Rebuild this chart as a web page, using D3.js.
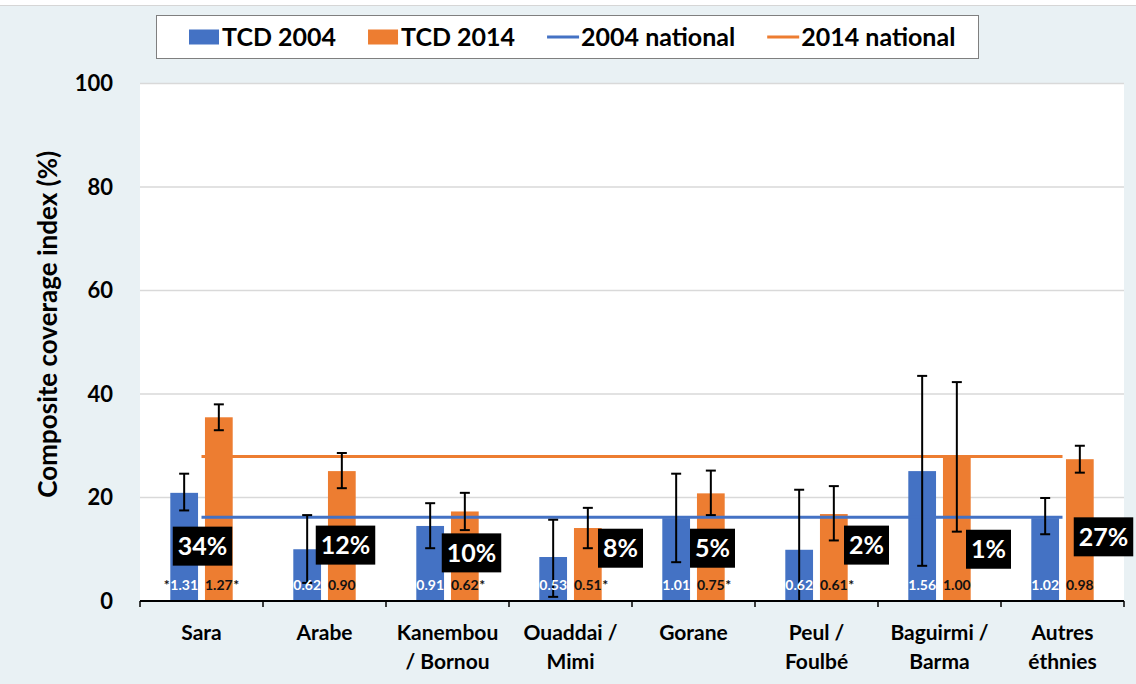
<!DOCTYPE html>
<html>
<head>
<meta charset="utf-8">
<script src="https://cdn.jsdelivr.net/npm/d3@7"></script>
<style>
  body { margin: 0; background: #fff; }
  svg { display: block; font-family: Lato, "Open Sans", sans-serif; font-weight: bold; }
</style>
</head>
<body>
<svg id="chart" width="1136" height="684"></svg>
<script>
// data
const groups = ["Sara", "Arabe", "Kanembou\n/ Bornou", "Ouaddai /\nMimi", "Gorane", "Peul /\nFoulbé", "Baguirmi /\nBarma", "Autres\néthnies"];
const tcd2004 = [20.9, 10.0, 14.5, 8.5, 16.0, 9.9, 25.1, 16.0];
const err2004Lo = [17.5, 3.5, 10.2, 0.8, 7.5, 0.0, 6.8, 12.9];
const err2004Hi = [24.6, 16.6, 18.9, 15.7, 24.6, 21.5, 43.5, 19.9];
const tcd2014 = [35.5, 25.1, 17.3, 14.1, 20.8, 16.8, 28.0, 27.4];
const err2014Lo = [33.0, 21.8, 13.7, 10.2, 16.6, 11.7, 13.4, 24.8];
const err2014Hi = [38.0, 28.6, 20.9, 18.0, 25.2, 22.2, 42.3, 30.0];
const ratio2004 = ["*1.31", "0.62", "0.91", "0.53", "1.01", "0.62", "1.56", "1.02"];
const ratio2014 = ["1.27*", "0.90", "0.62*", "0.51*", "0.75*", "0.61*", "1.00", "0.98"];
const pctLabels = ["34%", "12%", "10%", "8%", "5%", "2%", "1%", "27%"];
const national2004 = 16.2;
const national2014 = 27.9;
const yTicks = [0, 20, 40, 60, 80, 100];
const legendItems = ["TCD 2004", "TCD 2014", "2004 national", "2014 national"];

// where the black percent boxes sit (offset from group centre, and y value)
const pctDx = [1, 21, 24, 50, 19, 50, 49, 41];
const pctY = [10.6, 10.8, 9.3, 10.2, 10.2, 10.8, 10.0, 12.4];

const blue = "#4472c4", orange = "#ed7d31", bg = "#e9f1f4";

const svg = d3.select("#chart");
const pLeft = 140, pRight = 1124, pTop = 83.5, pBottom = 601;

svg.append("rect").attr("x", 0).attr("y", 6).attr("width", 1136).attr("height", 678).attr("fill", bg);
svg.append("line").attr("x1", 0).attr("x2", 1136).attr("y1", 5.5).attr("y2", 5.5).attr("stroke", "#d6d6d6");
svg.append("rect").attr("x", pLeft).attr("y", pTop).attr("width", pRight - pLeft).attr("height", pBottom - pTop).attr("fill", "#fff");

const x = d3.scaleBand().domain(groups).range([pLeft, pRight]).padding(0);
const sub = d3.scaleBand().domain(["2004", "2014"]).range([0, x.bandwidth()]).paddingInner(0.2).paddingOuter(0.874);
const y = d3.scaleLinear().domain([0, 100]).range([pBottom, pTop]);

// gridlines
svg.append("g").selectAll("line").data(yTicks.filter(d => d > 0)).enter().append("line")
  .attr("x1", pLeft).attr("x2", pRight)
  .attr("y1", d => y(d)).attr("y2", d => y(d))
  .attr("stroke", "#d9d9d9").attr("stroke-width", 1.5);

// y tick labels
svg.append("g").selectAll("text").data(yTicks).enter().append("text")
  .attr("x", 113).attr("y", d => y(d)).attr("dy", "0.36em")
  .attr("text-anchor", "end").style("font-size", "22px").text(d => d);

svg.append("text")
  .attr("transform", `translate(57,${(pTop + pBottom) / 2 - 18}) rotate(-90)`)
  .attr("text-anchor", "middle").style("font-size", "26px")
  .text("Composite coverage index (%)");

const series = [
  { key: "2004", vals: tcd2004, lo: err2004Lo, hi: err2004Hi, ratio: ratio2004, col: blue, txt: "#fff" },
  { key: "2014", vals: tcd2014, lo: err2014Lo, hi: err2014Hi, ratio: ratio2014, col: orange, txt: "#111" }
];

const cx = (s, i) => x(groups[i]) + sub(s.key) + sub.bandwidth() / 2;

series.forEach(s => {
  svg.append("g").selectAll("rect").data(s.vals).enter().append("rect")
    .attr("x", (d, i) => x(groups[i]) + sub(s.key))
    .attr("width", sub.bandwidth())
    .attr("y", d => y(d)).attr("height", d => y(0) - y(d))
    .attr("fill", s.col);
});

// national lines
const lineX1 = x(groups[0]) + x.bandwidth() / 2;
const lineX2 = x(groups[groups.length - 1]) + x.bandwidth() / 2;
[[national2014, orange], [national2004, blue]].forEach(([v, c]) => {
  svg.append("line").attr("x1", lineX1).attr("x2", lineX2)
    .attr("y1", y(v)).attr("y2", y(v)).attr("stroke", c).attr("stroke-width", 3);
});

// error bars
series.forEach(s => {
  const g = svg.append("g").attr("stroke", "#000").attr("stroke-width", 2);
  s.vals.forEach((d, i) => {
    const c = cx(s, i);
    g.append("line").attr("x1", c).attr("x2", c).attr("y1", y(s.lo[i])).attr("y2", y(s.hi[i]));
    g.append("line").attr("x1", c - 5).attr("x2", c + 5).attr("y1", y(s.hi[i])).attr("y2", y(s.hi[i]));
    g.append("line").attr("x1", c - 5).attr("x2", c + 5).attr("y1", y(s.lo[i])).attr("y2", y(s.lo[i]));
  });
});

// ratio labels inside bars
series.forEach(s => {
  s.ratio.forEach((r, i) => {
    const c = cx(s, i);
    const pre = r.startsWith("*"), post = r.endsWith("*");
    const num = r.replace(/\*/g, "");
    const t = svg.append("text").attr("x", c).attr("y", 590).attr("text-anchor", "middle")
      .style("font-size", "14px").attr("fill", s.txt).text(num);
    const w = t.node().getComputedTextLength();
    if (pre) svg.append("text").attr("x", c - w / 2 - 0.5).attr("y", 590).attr("text-anchor", "end")
      .style("font-size", "14px").attr("fill", "#111").text("*");
    if (post) svg.append("text").attr("x", c + w / 2 + 0.5).attr("y", 590)
      .style("font-size", "14px").attr("fill", "#111").text("*");
  });
});

// x axis
svg.append("line").attr("x1", pLeft).attr("x2", pRight).attr("y1", pBottom).attr("y2", pBottom)
  .attr("stroke", "#000").attr("stroke-width", 2);
const bounds = groups.map(g => x(g)).concat([pRight]);
svg.append("g").selectAll("line").data(bounds).enter().append("line")
  .attr("x1", d => d).attr("x2", d => d).attr("y1", pBottom).attr("y2", pBottom + 6)
  .attr("stroke", "#000").attr("stroke-width", 1.5);

const xl = svg.append("g").selectAll("text").data(groups).enter().append("text")
  .attr("x", d => x(d) + x.bandwidth() / 2).attr("y", 640)
  .attr("text-anchor", "middle").style("font-size", "21px");
xl.each(function (d) {
  d.split("\n").forEach((line, k) => {
    d3.select(this).append("tspan").attr("x", x(d) + x.bandwidth() / 2).attr("dy", k === 0 ? 0 : 29).text(line);
  });
});

// black percent boxes
pctLabels.forEach((p, i) => {
  const c = x(groups[i]) + x.bandwidth() / 2 + pctDx[i];
  const cy = y(pctY[i]);
  const g = svg.append("g");
  const box = g.append("rect").attr("fill", "#000");
  const t = g.append("text").attr("x", c).attr("y", cy).attr("dy", "0.36em")
    .attr("text-anchor", "middle").attr("fill", "#fff").style("font-size", "25px").text(p);
  const w = t.node().getComputedTextLength() + 10;
  box.attr("x", c - w / 2).attr("y", cy - 19.5).attr("width", w).attr("height", 39);
});

// legend
const lg = svg.append("g");
lg.append("rect").attr("x", 156.5).attr("y", 15.5).attr("width", 822).attr("height", 43)
  .attr("fill", "#fff").attr("stroke", "#7f7f7f");
const legendCols = [blue, orange, blue, orange];
let lx = 189;
legendItems.forEach((name, i) => {
  if (i < 2) lg.append("rect").attr("x", lx).attr("y", 29.5).attr("width", 30).attr("height", 15).attr("fill", legendCols[i]);
  else lg.append("line").attr("x1", lx).attr("x2", lx + 32).attr("y1", 37).attr("y2", 37)
    .attr("stroke", legendCols[i]).attr("stroke-width", 3);
  const sw = i < 2 ? 33 : 34;
  const t = lg.append("text").attr("x", lx + sw).attr("y", 37).attr("dy", "0.36em")
    .style("font-size", "25px").text(name);
  lx += sw + t.node().getComputedTextLength() + 32;
});
</script>
</body>
</html>
